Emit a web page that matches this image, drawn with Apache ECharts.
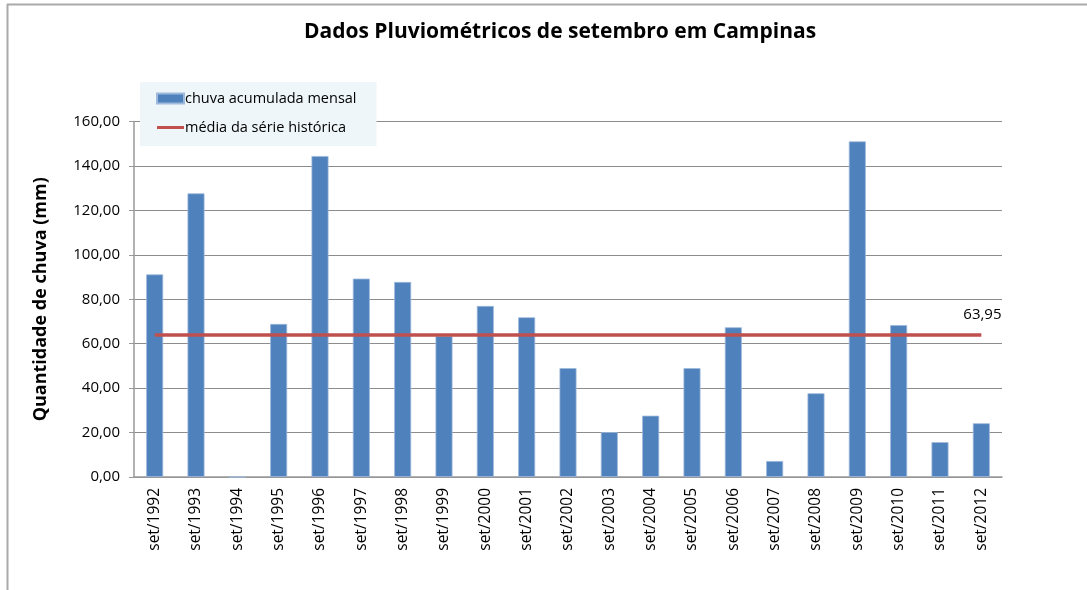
<!DOCTYPE html>
<html>
<head>
<meta charset="utf-8">
<script src="https://cdn.jsdelivr.net/npm/echarts@6/dist/echarts.min.js"></script>
<style>
  html, body { margin: 0; padding: 0; background: #fff; }
  #chart { width: 1087px; height: 590px; }
</style>
</head>
<body>
<div id="chart"></div>
<script>
const categories = ['set/1992', 'set/1993', 'set/1994', 'set/1995', 'set/1996', 'set/1997', 'set/1998',
  'set/1999', 'set/2000', 'set/2001', 'set/2002', 'set/2003', 'set/2004', 'set/2005', 'set/2006',
  'set/2007', 'set/2008', 'set/2009', 'set/2010', 'set/2011', 'set/2012']
const chuvaMensal = [91.2, 127.7, 0, 68.9, 144.5, 89.3, 87.8, 63.5, 77.0, 71.9, 49.0,
  20.2, 27.6, 49.0, 67.4, 7.2, 37.7, 151.1, 68.4, 15.7, 24.2]
const mediaHistorica = 63.95
const mediaSerie = categories.map(() => mediaHistorica)

const fmt = v => v.toFixed(2).replace('.', ',')
const font = 'Open Sans'

const chart = echarts.init(document.getElementById('chart'))
chart.setOption({
  backgroundColor: '#fff',
  animation: false,
  textStyle: { fontFamily: font },
  title: {
    text: 'Dados Pluviométricos de setembro em Campinas',
    left: 555,
    textAlign: 'center',
    top: 17,
    textStyle: { fontSize: 21, fontWeight: 'bold', color: '#000', fontFamily: font }
  },
  legend: {
    left: 140,
    top: 82,
    orient: 'vertical',
    width: 237,
    padding: [9, 20, 11, 16],
    itemGap: 14,
    itemWidth: 27,
    itemHeight: 10,
    backgroundColor: '#eef6f9',
    textStyle: { fontSize: 14.5, color: '#000', padding: [0, 0, 0, -4] },
    data: [
      { name: 'chuva acumulada mensal', icon: 'rect' },
      { name: 'média da série histórica', icon: 'path://M0,0h27v3h-27z', itemStyle: { color: '#c0504d' } }
    ]
  },
  grid: { left: 134, right: 85, top: 121.6, bottom: 113 },
  xAxis: {
    type: 'category',
    data: categories,
    axisLine: { lineStyle: { color: '#999', width: 1.5 } },
    axisTick: { show: false },
    axisLabel: { rotate: 90, fontSize: 15.5, color: '#000', margin: 11 }
  },
  yAxis: {
    type: 'value',
    min: 0,
    max: 160,
    interval: 20,
    name: 'Quantidade de chuva (mm)',
    nameLocation: 'middle',
    nameGap: 84,
    nameTextStyle: { fontSize: 18, fontWeight: 'bold', color: '#000' },
    axisLine: { show: true, lineStyle: { color: '#999', width: 1.5 } },
    axisTick: { show: true, length: 5, lineStyle: { color: '#999' } },
    axisLabel: { fontSize: 15, color: '#000', margin: 14, formatter: fmt },
    splitLine: { lineStyle: { color: '#8c8c8c', width: 1 } }
  },
  series: [
    {
      name: 'chuva acumulada mensal',
      type: 'bar',
      data: chuvaMensal,
      barWidth: 17,
      itemStyle: { color: '#4f81bd', borderColor: '#9db9dc', borderWidth: 0.8 }
    },
    {
      name: 'média da série histórica',
      type: 'line',
      data: mediaSerie,
      symbol: 'none',
      lineStyle: { color: '#c0504d', width: 3.5 },
      itemStyle: { color: '#c0504d' },
      endLabel: {
        show: true,
        formatter: () => fmt(mediaHistorica),
        fontSize: 15,
        color: '#000',
        offset: [-26, -20]
      }
    }
  ],
  graphic: [
    { type: 'line', shape: { x1: 7, y1: 4.5, x2: 1087, y2: 4.5 }, style: { stroke: '#aaa', lineWidth: 2 } },
    { type: 'line', shape: { x1: 7.5, y1: 4, x2: 7.5, y2: 590 }, style: { stroke: '#aaa', lineWidth: 2 } }
  ]
})
</script>
</body>
</html>
